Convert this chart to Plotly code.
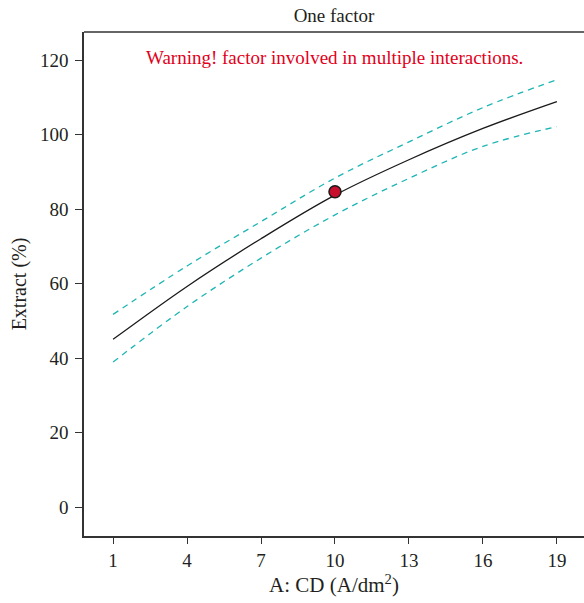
import plotly.graph_objects as go

# Data
cd_values = [1, 4, 7, 10, 13, 16, 19]
extract_mean = [45.1, 59.3, 72.1, 83.8, 93.3, 101.7, 108.9]
extract_upper = [51.8, 64.8, 76.7, 88.4, 98.1, 107.3, 114.8]
extract_lower = [39.0, 53.9, 66.9, 78.5, 88.3, 96.9, 102.2]
point_x = [10]
point_y = [84.7]
x_ticks = [1, 4, 7, 10, 13, 16, 19]
y_ticks = [0, 20, 40, 60, 80, 100, 120]

FONT = "Liberation Serif"
TEAL = "#1fb5b5"
TXT = "#231f20"

fig = go.Figure()
fig.add_trace(go.Scatter(x=cd_values, y=extract_upper, mode="lines",
                         line=dict(color=TEAL, width=1.3, dash="6px,5px", shape="spline"),
                         hoverinfo="skip", showlegend=False))
fig.add_trace(go.Scatter(x=cd_values, y=extract_lower, mode="lines",
                         line=dict(color=TEAL, width=1.3, dash="6px,5px", shape="spline"),
                         hoverinfo="skip", showlegend=False))
fig.add_trace(go.Scatter(x=cd_values, y=extract_mean, mode="lines",
                         line=dict(color="#1a1a1a", width=1.3, shape="spline"),
                         showlegend=False))
fig.add_trace(go.Scatter(x=point_x, y=point_y, mode="markers",
                         marker=dict(color="#c8102e", size=12, line=dict(color="#1a1a1a", width=1.5)),
                         showlegend=False))

fig.update_layout(
    width=584, height=603,
    margin=dict(l=84, r=0, t=32, b=67),
    plot_bgcolor="white", paper_bgcolor="white",
    font=dict(family=FONT, size=19, color=TXT),
    title=dict(text="One factor", x=334/584, xanchor="center", y=1 - 15/603, yanchor="middle",
               font=dict(family=FONT, size=19, color=TXT)),
    xaxis=dict(range=[-0.18, 20.1], tickvals=x_ticks, ticks="outside", ticklen=6,
               tickcolor="#333", showline=True, linecolor="#333", linewidth=1.5,
               showgrid=False, zeroline=False, tickfont=dict(family=FONT, size=19, color=TXT),
               title=dict(text="A: CD (A/dm<sup>2</sup>)", standoff=4,
                          font=dict(family=FONT, size=21, color=TXT))),
    yaxis=dict(range=[-7.7, 127.6], tickvals=y_ticks, ticks="outside", ticklen=7,
               ticklabelstandoff=3,
               tickcolor="#333", showline=True, linecolor="#333", linewidth=1.5,
               showgrid=False, zeroline=False, tickfont=dict(family=FONT, size=19, color=TXT),
               title=dict(text="Extract (%)", standoff=8,
                          font=dict(family=FONT, size=20, color=TXT))),
    shapes=[dict(type="line", xref="paper", yref="paper", x0=0, x1=1, y0=1, y1=1,
                 line=dict(color="#333", width=1.5))],
    annotations=[dict(x=10, y=120.8, xref="x", yref="y", text="Warning! factor involved in multiple interactions.",
                      showarrow=False, font=dict(family=FONT, size=19, color="#e2001a"),
                      xanchor="center", yanchor="middle")],
)

fig.write_html("out.html")
